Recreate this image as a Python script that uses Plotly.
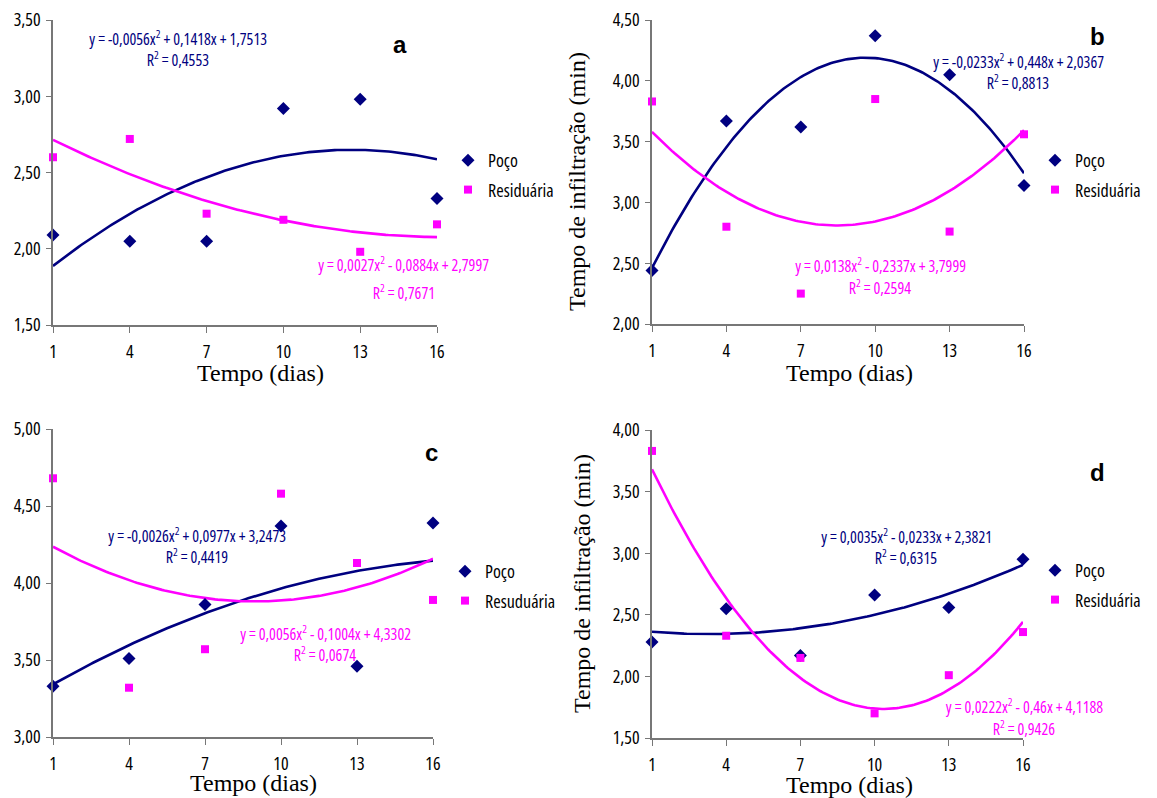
import numpy as np
import plotly.graph_objects as go

W, H = 1157, 798

dias = [1, 4, 7, 10, 13, 16]

poco_a = [2.09, 2.05, 2.05, 2.92, 2.98, 2.33]
resid_a = [2.60, 2.72, 2.23, 2.19, 1.98, 2.16]
poco_b = [2.44, 3.67, 3.62, 4.37, 4.05, 3.14]
resid_b = [3.83, 2.80, 2.25, 3.85, 2.76, 3.56]
poco_c = [3.33, 3.51, 3.86, 4.37, 3.46, 4.39]
resid_c = [4.68, 3.32, 3.57, 4.58, 4.13, 3.89]
poco_d = [2.28, 2.55, 2.17, 2.66, 2.56, 2.95]
resid_d = [3.83, 2.33, 2.15, 1.70, 2.01, 2.36]

# trendline coefficients (a2, a1, a0) as printed on the chart
coef_poco_a = [-0.0056, 0.1418, 1.7513]
coef_resid_a = [0.0027, -0.0884, 2.7997]
coef_poco_b = [-0.0233, 0.448, 2.0367]
coef_resid_b = [0.0138, -0.2337, 3.7999]
coef_poco_c = [-0.0026, 0.0977, 3.2473]
coef_resid_c = [0.0056, -0.1004, 4.3302]
coef_poco_d = [0.0035, -0.0233, 2.3821]
coef_resid_d = [0.0222, -0.46, 4.1188]

eq_poco = ["y = -0,0056x<sup>2</sup> + 0,1418x + 1,7513", "y = -0,0233x<sup>2</sup> + 0,448x + 2,0367",
           "y = -0,0026x<sup>2</sup> + 0,0977x + 3,2473", "y = 0,0035x<sup>2</sup> - 0,0233x + 2,3821"]
r2_poco = ["R<sup>2</sup> = 0,4553", "R<sup>2</sup> = 0,8813", "R<sup>2</sup> = 0,4419", "R<sup>2</sup> = 0,6315"]
eq_resid = ["y = 0,0027x<sup>2</sup> - 0,0884x + 2,7997", "y = 0,0138x<sup>2</sup> - 0,2337x + 3,7999",
            "y = 0,0056x<sup>2</sup> - 0,1004x + 4,3302", "y = 0,0222x<sup>2</sup> - 0,46x + 4,1188"]
r2_resid = ["R<sup>2</sup> = 0,7671", "R<sup>2</sup> = 0,2594", "R<sup>2</sup> = 0,0674", "R<sup>2</sup> = 0,9426"]
panel_letters = ["a", "b", "c", "d"]
legend_names = [("Poço", "Residuária"), ("Poço", "Residuária"), ("Poço", "Resuduária"), ("Poço", "Residuária")]
y_ranges = [(1.5, 3.5), (2.0, 4.5), (3.0, 5.0), (1.5, 4.0)]

NAVY = "#000080"
MAG = "#FF00FF"
NARROW = "Open Sans, DejaVu Sans, sans-serif"
SERIF = "Liberation Serif, Times New Roman, serif"

# pixel layout of each panel: x_left, x_right, y_top, y_bottom
boxes = [(53, 437, 20, 325), (652, 1024, 20, 324), (53, 433, 429, 737), (652, 1023, 430, 738)]

poco_all = [poco_a, poco_b, poco_c, poco_d]
resid_all = [resid_a, resid_b, resid_c, resid_d]
cp_all = [coef_poco_a, coef_poco_b, coef_poco_c, coef_poco_d]
cr_all = [coef_resid_a, coef_resid_b, coef_resid_c, coef_resid_d]

fig = go.Figure()
xs = np.linspace(1, 16, 151)

def px(x):
    return x / W

def py(y):
    return 1 - y / H

for i in range(4):
    sfx = "" if i == 0 else str(i + 1)
    xa, ya = "x" + sfx, "y" + sfx
    leg = "legend" + sfx
    cp, cr = cp_all[i], cr_all[i]
    fig.add_trace(go.Scatter(x=xs, y=np.polyval(cp, xs), mode="lines", line=dict(color=NAVY, width=2.6),
                             showlegend=False, xaxis=xa, yaxis=ya, hoverinfo="skip"))
    fig.add_trace(go.Scatter(x=xs, y=np.polyval(cr, xs), mode="lines", line=dict(color=MAG, width=2.6),
                             showlegend=False, xaxis=xa, yaxis=ya, hoverinfo="skip"))
    fig.add_trace(go.Scatter(x=dias, y=poco_all[i], mode="markers", name=legend_names[i][0],
                             marker=dict(symbol="diamond", size=10, color=NAVY), cliponaxis=False,
                             xaxis=xa, yaxis=ya, legend=leg, legendgroup="p%d" % i))
    fig.add_trace(go.Scatter(x=dias, y=resid_all[i], mode="markers", name=legend_names[i][1],
                             marker=dict(symbol="square", size=8, color=MAG), cliponaxis=False,
                             xaxis=xa, yaxis=ya, legend=leg, legendgroup="r%d" % i))

layout = dict(width=W, height=H, margin=dict(l=0, r=0, t=0, b=0, autoexpand=False),
              paper_bgcolor="white", plot_bgcolor="white", separators=",.")

for i in range(4):
    sfx = "" if i == 0 else str(i + 1)
    xl, xr, yt, yb = boxes[i]
    layout["xaxis" + sfx] = dict(domain=[px(xl), px(xr)], range=[1, 16], anchor="y" + sfx,
                                 tickvals=dias, ticks="outside", ticklen=6, tickcolor="#777",
                                 showline=True, linecolor="#777", linewidth=1.5, showgrid=False,
                                 zeroline=False, ticklabelstandoff=4,
                                 tickfont=dict(family=NARROW, size=18, color="black"))
    layout["yaxis" + sfx] = dict(domain=[py(yb), py(yt)], range=list(y_ranges[i]), anchor="x" + sfx,
                                 dtick=0.5, tickformat=".2f", ticks="outside", ticklen=5, tickcolor="#777",
                                 showline=True, linecolor="#777", linewidth=1.5, showgrid=False,
                                 zeroline=False, ticklabelstandoff=2,
                                 tickfont=dict(family=NARROW, size=18, color="black"))

legend_pos = [(448, 142), (1035, 142), (445, 553), (1035, 552)]
for i in range(4):
    sfx = "" if i == 0 else str(i + 1)
    lx, ly = legend_pos[i]
    layout["legend" + sfx] = dict(x=px(lx), y=py(ly), xanchor="left", yanchor="top",
                                  bgcolor="rgba(0,0,0,0)", font=dict(family=NARROW, size=18, color="black"),
                                  itemwidth=30, tracegroupgap=3)

ann = []
EQ = 16
eq_poco_pos = [(178, 38, 59), (1018, 61, 82), (197, 535, 556), (906, 536, 557)]
eq_resid_pos = [(404, 264, 292), (880, 265, 287), (325, 633, 654), (1024, 706, 728)]
for i in range(4):
    x0, y1, y2 = eq_poco_pos[i]
    ann.append(dict(x=px(x0), y=py(y1), text=eq_poco[i], font=dict(family=NARROW, size=EQ, color=NAVY)))
    ann.append(dict(x=px(x0), y=py(y2), text=r2_poco[i], font=dict(family=NARROW, size=EQ, color=NAVY)))
    x0, y1, y2 = eq_resid_pos[i]
    ann.append(dict(x=px(x0), y=py(y1), text=eq_resid[i], font=dict(family=NARROW, size=EQ, color=MAG)))
    ann.append(dict(x=px(x0), y=py(y2), text=r2_resid[i], font=dict(family=NARROW, size=EQ, color=MAG)))

letter_pos = [(400, 45), (1097, 36), (431, 452), (1097, 472)]
for i in range(4):
    ann.append(dict(x=px(letter_pos[i][0]), y=py(letter_pos[i][1]), text="<b>%s</b>" % panel_letters[i],
                    font=dict(family="Liberation Sans, sans-serif", size=24, color="black")))

xtitle_pos = [(260, 373), (850, 373), (253, 783), (849, 785)]
for (x0, y0) in xtitle_pos:
    ann.append(dict(x=px(x0), y=py(y0), text="Tempo (dias)", font=dict(family=SERIF, size=24, color="black")))

ytitle_pos = [(577, 182), (582, 584)]
for (x0, y0) in ytitle_pos:
    ann.append(dict(x=px(x0), y=py(y0), text="Tempo de infiltração (min)", textangle=-90,
                    font=dict(family=SERIF, size=24, color="black")))

for a in ann:
    a.update(xref="paper", yref="paper", showarrow=False, xanchor="center", yanchor="middle")

layout["annotations"] = ann
fig.update_layout(**layout)

# remove the browser's default page margin and use the condensed width of Open Sans
post = ("document.body.style.margin='0';document.body.style.overflow='hidden';"
        "var s=document.createElement('style');"
        "s.textContent='.main-svg text,.main-svg tspan{font-stretch:75% !important;}';"
        "document.head.appendChild(s);")
fig.write_html("out.html", post_script=post, config={"displayModeBar": False})
